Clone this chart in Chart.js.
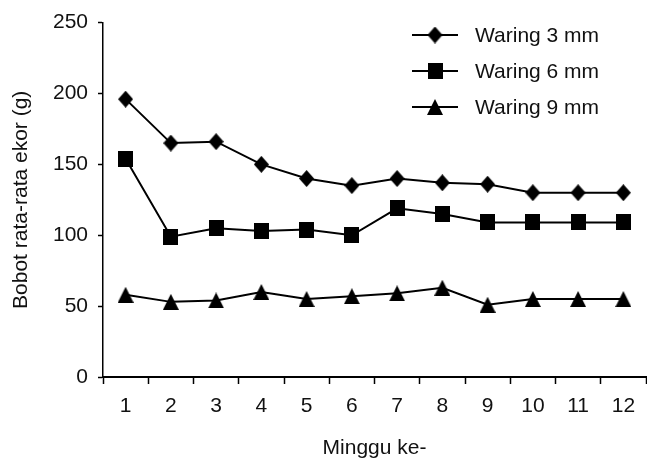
<!DOCTYPE html>
<html><head><meta charset="utf-8">
<script src="https://cdn.jsdelivr.net/npm/chart.js@4.4.0/dist/chart.umd.min.js"></script>
<style>html,body{margin:0;padding:0;background:#fff;overflow:hidden;width:647px;height:459px}canvas{display:block}</style>
</head><body>
<canvas id="c" width="656" height="461"></canvas>
<script>
const weeks = ['1','2','3','4','5','6','7','8','9','10','11','12'];
const waring3 = [196, 165, 166, 150, 140, 135, 140, 137, 136, 130, 130, 130];
const waring6 = [154, 99, 105, 103, 104, 100, 119, 115, 109, 109, 109, 109];
const waring9 = [58, 53, 54, 60, 55, 57, 59, 63, 51, 55, 55, 55];
const seriesLabels = ['Waring 3 mm', 'Waring 6 mm', 'Waring 9 mm'];
const yTitle = 'Bobot rata-rata ekor (g)';
const xTitle = 'Minggu ke-';

const FONT = '"Liberation Sans", Arial, sans-serif';

function marker(kind) {
  const c = document.createElement('canvas');
  const g = c.getContext('2d');
  g.fillStyle = '#000';
  if (kind === 'diamond') {
    c.width = 15; c.height = 17;
    g.fillStyle = '#000';
    g.beginPath(); g.moveTo(7.5, 0); g.lineTo(15, 8.5); g.lineTo(7.5, 17); g.lineTo(0, 8.5); g.closePath(); g.fill();
  } else if (kind === 'square') {
    c.width = 15; c.height = 16;
    g.fillStyle = '#000'; g.fillRect(0, 0, 15, 16);
  } else {
    c.width = 16; c.height = 16;
    g.fillStyle = '#000';
    g.beginPath(); g.moveTo(8, 0); g.lineTo(16, 16); g.lineTo(0, 16); g.closePath(); g.fill();
  }
  return c;
}
const markers = [marker('diamond'), marker('square'), marker('triangle')];

const legendPlugin = {
  id: 'lineLegend',
  afterDatasetsDraw(chart) {
    const ctx = chart.ctx;
    ctx.save();
    chart.data.datasets.forEach((ds, i) => {
      const y = 35 + i * 36;
      ctx.strokeStyle = '#000';
      ctx.lineWidth = 2;
      ctx.beginPath(); ctx.moveTo(412, y); ctx.lineTo(458, y); ctx.stroke();
      Chart.helpers.drawPoint(ctx, { pointStyle: ds.pointStyle, rotation: 0, radius: 8, borderWidth: 0 }, 435, y);
      ctx.fillStyle = '#111';
      ctx.font = '21px ' + FONT;
      ctx.textBaseline = 'middle';
      ctx.textAlign = 'left';
      ctx.fillText(ds.label, 475, y + 1);
    });
    ctx.restore();
  }
};

const series = [waring3, waring6, waring9];
new Chart(document.getElementById('c'), {
  type: 'line',
  data: {
    labels: weeks,
    datasets: series.map((d, i) => ({
      label: seriesLabels[i],
      data: d,
      borderColor: '#000',
      backgroundColor: '#000',
      borderWidth: 2,
      pointStyle: markers[i],
      pointRadius: 8,
      pointHoverRadius: 8,
      tension: 0,
      fill: false
    }))
  },
  options: {
    responsive: false,
    animation: false,
    events: [],
    layout: { padding: { top: 20, right: 2, left: 0, bottom: 0 } },
    plugins: { legend: { display: false }, tooltip: { enabled: false } },
    scales: {
      x: {
        type: 'category',
        offset: true,
        grid: { offset: true, drawOnChartArea: false, drawTicks: true, tickLength: 7, tickColor: '#000', tickWidth: 1.5 },
        border: { display: true, color: '#000', width: 2 },
        ticks: { color: '#111', font: { family: FONT, size: 21 }, padding: 10, maxRotation: 0, autoSkip: false },
        title: { display: true, text: xTitle, color: '#111', font: { family: FONT, size: 21 }, padding: { top: 0, bottom: 0 } },
        afterFit(s) { s.height = 84; }
      },
      y: {
        min: 0, max: 250,
        ticks: { stepSize: 50, color: '#111', font: { family: FONT, size: 21 }, padding: 10 },
        grid: { drawOnChartArea: false, drawTicks: true, tickLength: 5, tickColor: '#000', tickWidth: 1.5 },
        border: { display: true, color: '#000', width: 1.5 },
        title: { display: true, text: yTitle, color: '#111', font: { family: FONT, size: 21 }, padding: { top: 9, bottom: 0 } },
        afterFit(s) { s.width = 103; }
      }
    }
  },
  plugins: [legendPlugin]
});
</script>
</body></html>
